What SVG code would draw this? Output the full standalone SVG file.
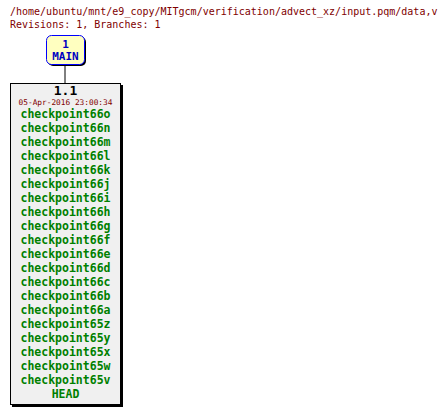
<svg xmlns="http://www.w3.org/2000/svg" width="446" height="415" viewBox="0 0 446 415">
<style>
.hdr{font-family:"DejaVu Sans Mono",monospace;font-size:10px;fill:#800000}
.tag{font-family:"DejaVu Sans Mono",monospace;font-size:11.5px;font-weight:bold;fill:#008000;text-anchor:middle}
.br{font-family:"DejaVu Sans Mono",monospace;font-size:11px;font-weight:bold;fill:#0000c0;text-anchor:middle}
</style>
<rect width="446" height="415" fill="#ffffff"/>
<text class="hdr" x="10" y="15">/home/ubuntu/mnt/e9_copy/MITgcm/verification/advect_xz/input.pqm/data,v</text>
<text class="hdr" x="10" y="28">Revisions: 1, Branches: 1</text>
<g id="connectors">
<line x1="65" y1="65" x2="65" y2="83" stroke="#000" stroke-width="1"/>
</g>
<g id="branch-main">
<rect x="48" y="37" width="38" height="29" rx="5" fill="#000"/>
<rect x="46.5" y="35.5" width="38" height="29" rx="5" fill="#ffffc0" stroke="#0000ff"/>
<text class="br" x="65.5" y="48">1</text>
<text class="br" x="65.5" y="60">MAIN</text>
</g>
<g id="rev-1.1">
<rect x="12" y="85" width="111" height="322" fill="#000"/>
<rect x="10.5" y="83.5" width="110" height="321" fill="#f0f0f0" stroke="#000"/>
<text x="65.5" y="95" text-anchor="middle" font-family="DejaVu Sans Mono,monospace" font-size="13" font-weight="bold" fill="#000">1.1</text>
<text x="65.5" y="105.3" text-anchor="middle" font-family="DejaVu Sans Mono,monospace" font-size="7.8" fill="#800000">05-Apr-2016 23:00:34</text>
<text class="tag" x="65.5" y="118">checkpoint66o</text>
<text class="tag" x="65.5" y="132">checkpoint66n</text>
<text class="tag" x="65.5" y="146">checkpoint66m</text>
<text class="tag" x="65.5" y="160">checkpoint66l</text>
<text class="tag" x="65.5" y="174">checkpoint66k</text>
<text class="tag" x="65.5" y="188">checkpoint66j</text>
<text class="tag" x="65.5" y="202">checkpoint66i</text>
<text class="tag" x="65.5" y="216">checkpoint66h</text>
<text class="tag" x="65.5" y="230">checkpoint66g</text>
<text class="tag" x="65.5" y="244">checkpoint66f</text>
<text class="tag" x="65.5" y="258">checkpoint66e</text>
<text class="tag" x="65.5" y="272">checkpoint66d</text>
<text class="tag" x="65.5" y="286">checkpoint66c</text>
<text class="tag" x="65.5" y="300">checkpoint66b</text>
<text class="tag" x="65.5" y="314">checkpoint66a</text>
<text class="tag" x="65.5" y="328">checkpoint65z</text>
<text class="tag" x="65.5" y="342">checkpoint65y</text>
<text class="tag" x="65.5" y="356">checkpoint65x</text>
<text class="tag" x="65.5" y="370">checkpoint65w</text>
<text class="tag" x="65.5" y="384">checkpoint65v</text>
<text class="tag" x="65.5" y="398">HEAD</text>
</g>
</svg>
